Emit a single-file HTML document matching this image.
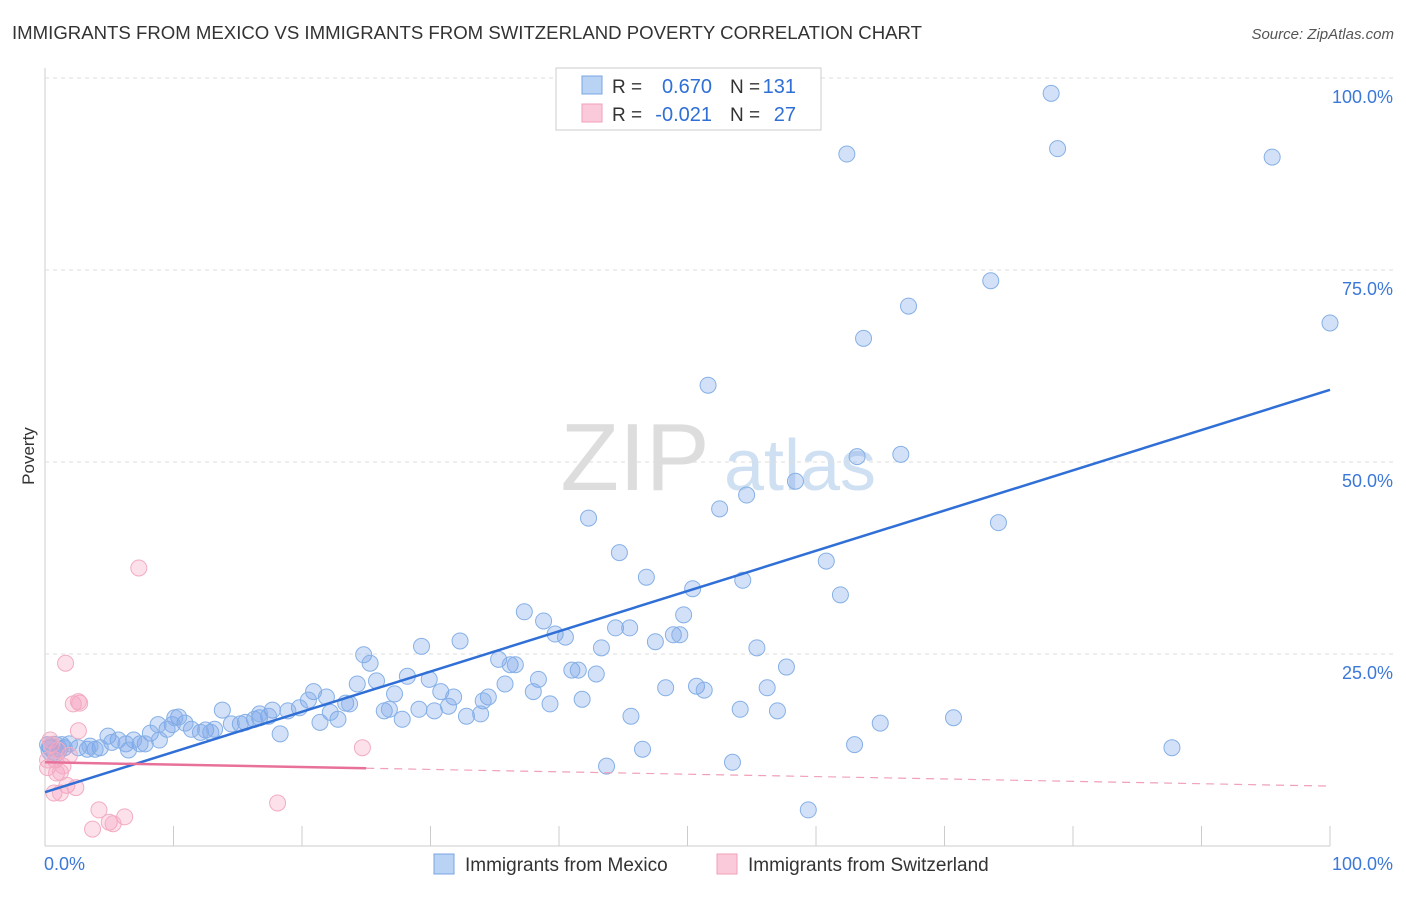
<!DOCTYPE html>
<html><head><meta charset="utf-8"><style>
body{margin:0;background:#fff;font-family:"Liberation Sans",sans-serif}
svg text{font-family:"Liberation Sans",sans-serif}
</style></head><body>
<svg id="c" width="1406" height="892" xmlns="http://www.w3.org/2000/svg">
<text x="12" y="39" font-size="18" fill="#333" textLength="910" lengthAdjust="spacingAndGlyphs">IMMIGRANTS FROM MEXICO VS IMMIGRANTS FROM SWITZERLAND POVERTY CORRELATION CHART</text>
<text x="1394" y="39" font-size="15" fill="#555" font-style="italic" text-anchor="end">Source: ZipAtlas.com</text>
<text x="34" y="456" font-size="17" fill="#333" transform="rotate(-90 34 456)" text-anchor="middle">Poverty</text>
<g><text x="635" y="490" font-size="96" fill="#ddd" font-family="Liberation Serif" text-anchor="middle">ZIP</text><text x="800" y="490" font-size="72" fill="#cfe0f3" text-anchor="middle">atlas</text></g>
<g id="grid"></g><g id="pts"></g><g id="lines"></g>
<g>
<rect x="556" y="68" width="265" height="62" fill="#fff" stroke="#ccc"/>
<rect x="582" y="76" width="20" height="18" fill="#b9d3f5" stroke="#7aa6e0"/>
<rect x="582" y="104" width="20" height="18" fill="#fbcada" stroke="#f0a0b8"/>
<text x="612" y="93" font-size="19" fill="#333">R =</text>
<text x="712" y="93" font-size="20" fill="#2f6fd6" text-anchor="end">0.670</text>
<text x="730" y="93" font-size="19" fill="#333">N =</text>
<text x="796" y="93" font-size="20" fill="#2f6fd6" text-anchor="end">131</text>
<text x="612" y="121" font-size="19" fill="#333">R =</text>
<text x="712" y="121" font-size="20" fill="#2f6fd6" text-anchor="end">-0.021</text>
<text x="730" y="121" font-size="19" fill="#333">N =</text>
<text x="796" y="121" font-size="20" fill="#2f6fd6" text-anchor="end">27</text>
</g>
<g>
<rect x="434" y="854" width="20" height="20" fill="#b9d3f5" stroke="#7aa6e0"/>
<text x="465" y="871" font-size="19" fill="#333">Immigrants from Mexico</text>
<rect x="717" y="854" width="20" height="20" fill="#fbcada" stroke="#f0a0b8"/>
<text x="748" y="871" font-size="19" fill="#333">Immigrants from Switzerland</text>
</g>
</svg>
<script>
const yTicks=[25,50,75,100];
const yTickLabels=["25.0%","50.0%","75.0%","100.0%"];
const xTicks=[0,10,20,30,40,50,60,70,80,90,100];
const mexX=[78.3,62.4,78.8,95.5,73.6,67.2,100,63.7,51.6,63.2,66.6,58.4,54.6,52.5,42.3,74.2,44.7,60.8,46.8,54.3,50.4,61.9,37.3,38.8,49.7,39.7,40.5,44.4,45.5,48.9,49.4,47.5,43.3,55.4,29.3,32.3,24.8,25.3,35.3,36.2,36.6,57.7,28.2,29.9,38.4,41.0,41.5,42.9,35.8,48.3,50.7,51.3,56.2,24.3,25.8,27.2,30.8,31.8,34.5,34.1,20.9,21.9,20.5,38.0,41.8,39.3,54.1,57.0,65.0,70.7,45.6,32.8,33.9,26.4,26.8,29.1,30.3,31.4,27.8,23.4,23.7,22.8,21.4,22.2,19.8,18.9,17.7,17.4,16.7,16.3,15.6,15.2,14.5,13.8,12.5,12.9,12.1,11.4,10.9,10.4,9.9,9.5,8.8,8.2,7.8,7.4,6.9,6.3,5.7,4.9,5.2,4.3,3.9,3.3,2.6,1.9,1.5,1.0,0.7,0.4,0.2,18.3,46.5,63.0,87.7,43.7,53.5,59.4,8.9,10.1,13.2,6.5,3.5,1.3,16.7];
const mexY=[98.0,90.1,90.8,89.7,73.6,70.3,68.1,66.1,60.0,50.7,51.0,47.5,45.7,43.9,42.7,42.1,38.2,37.1,35.0,34.6,33.5,32.7,30.5,29.3,30.1,27.6,27.2,28.4,28.4,27.5,27.5,26.6,25.8,25.8,26.0,26.7,24.9,23.8,24.3,23.6,23.6,23.3,22.1,21.7,21.7,22.9,22.9,22.4,21.1,20.6,20.8,20.3,20.6,21.1,21.5,19.8,20.1,19.4,19.4,18.9,20.1,19.4,19.0,20.1,19.1,18.5,17.8,17.6,16.0,16.7,16.9,16.9,17.2,17.6,17.8,17.8,17.6,18.2,16.5,18.6,18.5,16.5,16.1,17.4,18.0,17.6,17.7,16.9,16.7,16.5,16.1,15.9,15.9,17.7,15.1,14.8,14.8,15.2,16.0,16.8,15.8,15.2,15.8,14.7,13.3,13.3,13.8,13.3,13.8,14.3,13.5,12.8,12.6,12.6,12.8,13.3,12.8,12.6,12.2,12.8,13.2,14.6,12.6,13.2,12.8,10.4,10.9,4.7,13.8,16.7,15.2,12.5,13.0,13.2,17.2];
const swiX=[7.3,1.6,2.7,2.2,2.6,2.6,0.4,0.8,0.2,0.9,1.2,1.7,2.4,0.7,1.2,4.2,6.2,5.0,5.3,3.7,18.1,24.7,0.5,1.0,0.2,1.9,1.4];
const swiY=[36.2,23.8,18.6,18.5,18.8,15.0,13.8,11.2,10.2,9.5,9.6,7.9,7.6,6.9,6.9,4.7,3.8,3.1,2.9,2.2,5.6,12.8,13.2,12.5,11.2,11.8,10.4];
const mexFit=[7.0,59.4];
const swiFit=[10.9,7.8];
const swiSolidEnd=25;
const NS="http://www.w3.org/2000/svg";
const X=v=>45+v*12.85, Y=v=>846-v*7.68;
function mk(tag,attrs,parent){const e=document.createElementNS(NS,tag);for(const k in attrs)e.setAttribute(k,attrs[k]);parent.appendChild(e);return e;}
const grid=document.getElementById('grid');
const ax=mk('line',{x1:45,y1:68,x2:45,y2:846,stroke:'#ccc'},grid);


const bx=mk('line',{x1:45,y1:846,x2:1330,y2:846,stroke:'#ccc'},grid);


yTicks.forEach((t,i)=>{
 const g=mk('line',{x1:45,x2:1395,y1:Y(t),y2:Y(t),stroke:'#ddd','stroke-dasharray':'4 4'},grid);
 
 
 const tx=mk('text',{x:1393,y:Y(t)+25,'font-size':18,fill:'#3b78d8','text-anchor':'end'},grid);tx.textContent=yTickLabels[i];
 
 
});
xTicks.forEach(t=>{
 const l=mk('line',{x1:X(t),x2:X(t),y1:826,y2:846,stroke:'#ccc'},grid);
 
 
});
[[0,'0.0%','start',44],[100,'100.0%','end',1393]].forEach(a=>{
 const tx=mk('text',{x:a[3],y:870,'font-size':18,fill:'#3b78d8','text-anchor':a[2]},grid);tx.textContent=a[1];
 
 
});
const pts=document.getElementById('pts');
mexX.forEach((x,i)=>{
 const c=mk('circle',{cx:X(x),cy:Y(mexY[i]),r:8,fill:'rgba(120,165,235,0.33)',stroke:'#86b0e6','stroke-width':1},pts);
 
 
});
const big=mk('circle',{cx:X(0.7),cy:Y(12.6),r:13,fill:'rgba(120,165,235,0.35)',stroke:'#86b0e6'},pts);


swiX.forEach((x,i)=>{
 const c=mk('circle',{cx:X(x),cy:Y(swiY[i]),r:8,fill:'rgba(245,160,190,0.33)',stroke:'#f2adc2','stroke-width':1},pts);
 
 
});
const lines=document.getElementById('lines');
const l1=mk('line',{x1:X(0),y1:Y(mexFit[0]),x2:X(100),y2:Y(mexFit[1]),stroke:'#2f6fd6','stroke-width':2.5},lines);


const sy=v=>swiFit[0]+(swiFit[1]-swiFit[0])*v/100;
const l2=mk('line',{x1:X(0),y1:Y(sy(0)),x2:X(swiSolidEnd),y2:Y(sy(swiSolidEnd)),stroke:'#e8719a','stroke-width':2.5},lines);


const l3=mk('line',{x1:X(swiSolidEnd),y1:Y(sy(swiSolidEnd)),x2:X(100),y2:Y(sy(100)),stroke:'#f0a0b8','stroke-width':1.2,'stroke-dasharray':'8 6'},lines);


</script>
</body></html>
